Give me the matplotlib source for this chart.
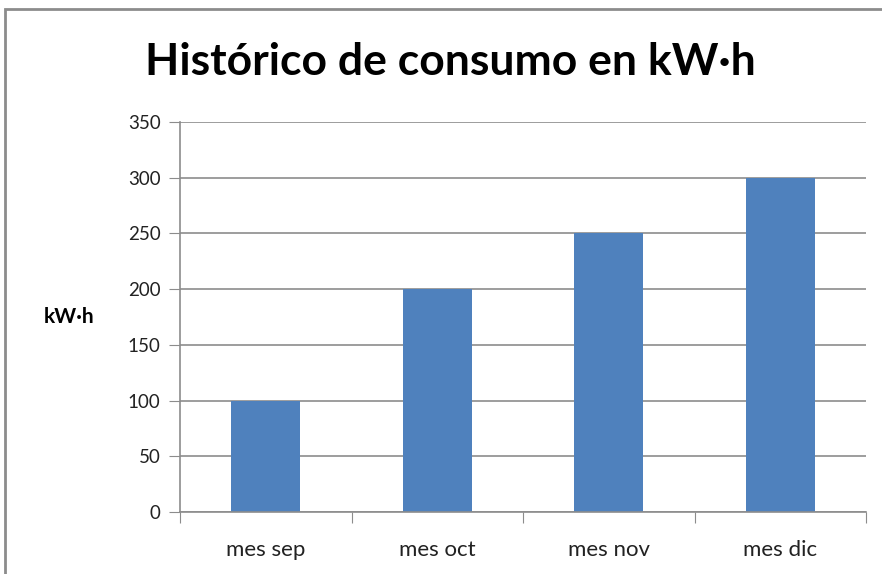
import matplotlib.pyplot as plt
from matplotlib.patches import Rectangle

meses = ['mes sep', 'mes oct', 'mes nov', 'mes dic']
consumo = [100, 200, 250, 300]
yticks = [0, 50, 100, 150, 200, 250, 300, 350]

plt.rcParams['font.family'] = ['Lato', 'DejaVu Sans']

fig = plt.figure(figsize=(8.82, 5.74), dpi=100)
ax = fig.add_axes([180/882, 1-512/574, 686/882, 390/574])

x = range(len(meses))
ax.bar(x, consumo, width=0.4, color='#4F81BD', zorder=2)

ax.set_xlim(-0.5, len(meses)-0.5)
ax.set_ylim(0, 350)
ax.set_yticks(yticks)
ax.set_yticklabels([str(v) for v in yticks], fontsize=13.5, color='#222222')
ax.yaxis.grid(True, color='#8c8c8c', linewidth=1.2, zorder=0)

# categorias con ticks en los limites
ax.set_xticks([i + 0.5 for i in range(-1, len(meses))])
ax.set_xticklabels([])
ax.set_xticks(list(x), minor=True)
ax.set_xticklabels(meses, minor=True, fontsize=16, color='#222222')
ax.tick_params(axis='x', which='minor', length=0, pad=20)
ax.tick_params(axis='x', which='major', length=8, color='#8c8c8c', direction='out')
ax.tick_params(axis='y', length=8, color='#8c8c8c', pad=6)

for s in ['top', 'right']:
    ax.spines[s].set_visible(False)
ax.spines['left'].set_color('#8c8c8c')
ax.spines['bottom'].set_color('#8c8c8c')
ax.spines['left'].set_linewidth(1.2)
ax.spines['bottom'].set_linewidth(1.2)

ax.set_ylabel('kW·h', rotation=0, fontsize=15, fontweight='bold', labelpad=42, va='center')

fig.suptitle('Histórico de consumo en kW·h', fontsize=32, fontweight='bold',
             x=450/882, y=1-62/574, va='center')

fig.patches.append(Rectangle((4.5/882, -0.05), 1.1, 1-9/574+0.05, transform=fig.transFigure,
                             fill=False, edgecolor='#8c8c8c', linewidth=2))

fig.savefig('out.png', dpi=100)
